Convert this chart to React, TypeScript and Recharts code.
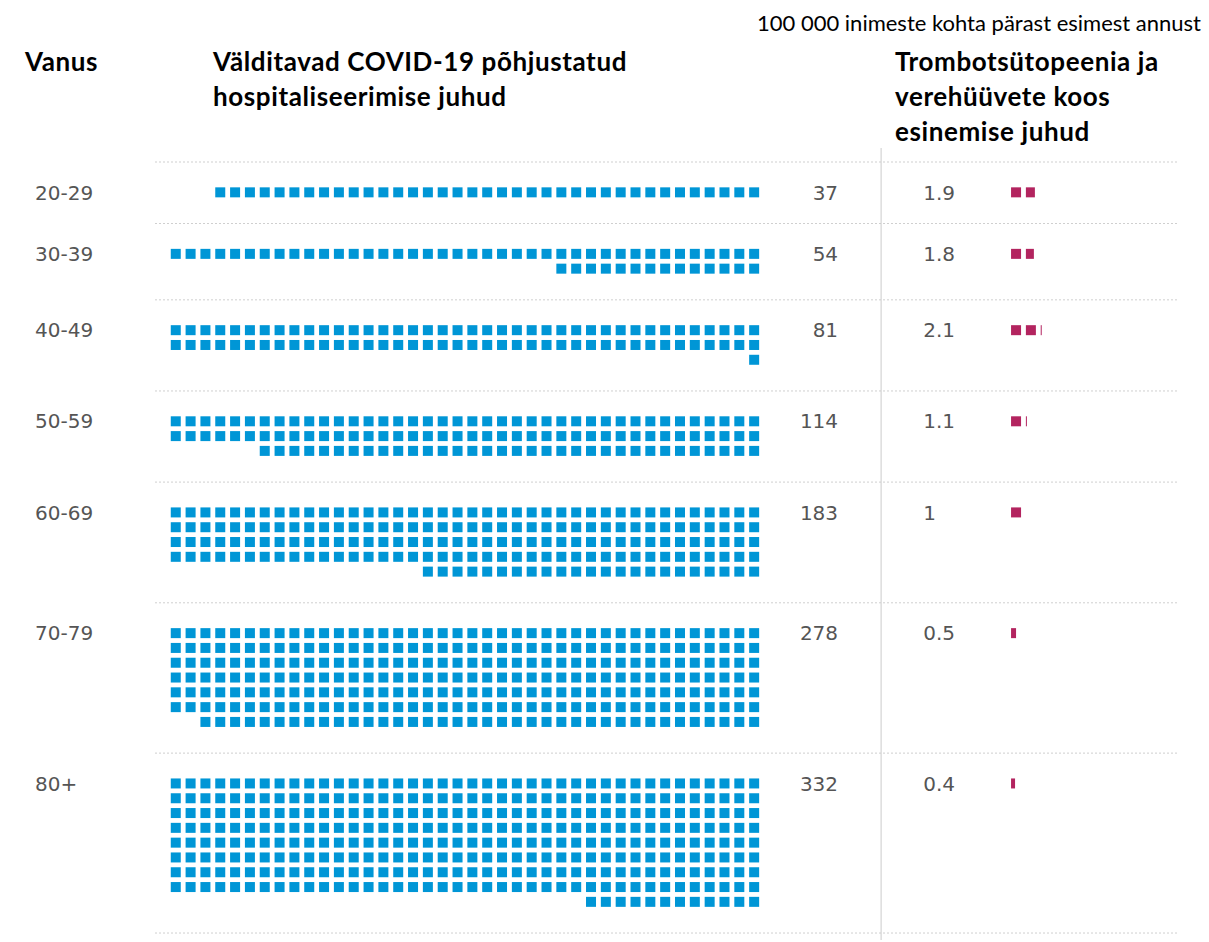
import React from 'react';
import { ScatterChart, Scatter, XAxis, YAxis, ReferenceLine } from 'recharts';

const ageGroups = ['20-29', '30-39', '40-49', '50-59', '60-69', '70-79', '80+'];
const hospitalCases = [37, 54, 81, 114, 183, 278, 332];
const thromboCases = [1.9, 1.8, 2.1, 1.1, 1, 0.5, 0.4];
const thromboLabels = ['1.9', '1.8', '2.1', '1.1', '1', '0.5', '0.4'];

// layout, in square units (one square + gap)
const PER_ROW = 40;
const GAP = 3.157; // empty rows between two age groups
const FIRST = 2.05; // first square row below the separator
const VALUE_X = 45.16;
const DIVIDER_X = 48.06;
const THROMBO_LABEL_X = 50.9;
const THROMBO_X = 57.16;

const BLUE = '#0096d6';
const PINK = '#b3245f';
const GREY = '#555555';

const rowCounts = hospitalCases.map((v) => Math.ceil(v / PER_ROW));
const separators: number[] = [0];
rowCounts.forEach((n, i) => separators.push(separators[i] + n + GAP));
const firstRows = separators.slice(0, -1).map((s) => s + FIRST);

// full rows from the top, the rest right-aligned in the last row
const waffle = hospitalCases.flatMap((v, i) => {
  const full = Math.floor(v / PER_ROW);
  const rest = v % PER_ROW;
  const pts = [];
  for (let k = 0; k < v; k++) {
    const r = Math.floor(k / PER_ROW);
    const j = k % PER_ROW;
    const col = r < full ? j : PER_ROW - rest + j;
    pts.push({ x: col + 0.5, y: firstRows[i] + r });
  }
  return pts;
});

const thrombo = thromboCases.flatMap((v, i) => {
  const pts = [];
  for (let k = 0; k < Math.ceil(v); k++) {
    pts.push({ x: THROMBO_X + k, y: firstRows[i], frac: Math.min(1, v - k) });
  }
  return pts;
});

const hospitalText = hospitalCases.map((v, i) => ({ x: VALUE_X, y: firstRows[i], label: String(v) }));
const thromboText = thromboLabels.map((t, i) => ({ x: THROMBO_LABEL_X, y: firstRows[i], label: t }));

const SQ = 10;

const Square = (p: any) => (
  <rect x={p.cx - SQ / 2} y={p.cy - SQ / 2} width={SQ * (p.payload.frac ?? 1)} height={SQ} fill={p.fill} />
);

const textStyle = { fontFamily: '"DejaVu Sans", Verdana, sans-serif', fontSize: 20, fill: GREY };

const EndText = (p: any) => (
  <text x={p.cx} y={p.cy} dy="0.36em" textAnchor="end" style={textStyle}>
    {p.payload.label}
  </text>
);

const StartText = (p: any) => (
  <text x={p.cx} y={p.cy} dy="0.36em" textAnchor="start" style={textStyle}>
    {p.payload.label}
  </text>
);

const AgeTick = (p: any) => (
  <text x={p.x} y={p.y} dy="0.36em" textAnchor="start" style={textStyle}>
    {ageGroups[p.index]}
  </text>
);

const head: React.CSSProperties = {
  position: 'absolute',
  fontFamily: 'Lato, "Open Sans", sans-serif',
  fontWeight: 700,
  fontSize: 26,
  letterSpacing: 0.6,
  lineHeight: '35px',
  color: '#000',
  margin: 0,
  whiteSpace: 'nowrap',
};

export default function App() {
  return (
    <div style={{ position: 'absolute', left: 0, top: 0, width: 1209, height: 942, background: '#fff', overflow: 'hidden' }}>
      <div
        style={{
          position: 'absolute',
          right: 8,
          top: 10,
          fontFamily: 'Lato, "Open Sans", sans-serif',
          fontSize: 22,
          lineHeight: '26px',
          color: '#000',
          whiteSpace: 'nowrap',
        }}
      >
        100 000 inimeste kohta pärast esimest annust
      </div>
      <div style={{ ...head, left: 25, top: 44 }}>Vanus</div>
      <div style={{ ...head, left: 213, top: 44 }}>
        Välditavad COVID-19 põhjustatud
        <br />
        hospitaliseerimise juhud
      </div>
      <div style={{ ...head, left: 895, top: 44 }}>
        Trombotsütopeenia ja
        <br />
        verehüüvete koos
        <br />
        esinemise juhud
      </div>

      <div style={{ position: 'absolute', left: 0, top: 0 }}>
        <ScatterChart width={1209} height={942} margin={{ top: 148, right: 31, bottom: 2, left: 0 }}>
          <XAxis type="number" dataKey="x" domain={[-0.9, 68.08]} allowDataOverflow hide />
          <YAxis
            type="number"
            dataKey="y"
            domain={[-0.946, 52.57]}
            reversed
            allowDataOverflow
            width={155}
            axisLine={false}
            tickLine={false}
            tickSize={0}
            tickMargin={120}
            ticks={firstRows}
            interval={0}
            tick={AgeTick}
          />
          {separators.map((s) => (
            <ReferenceLine key={s} y={s} stroke="#cfcfcf" strokeDasharray="2 2" />
          ))}
          <ReferenceLine x={DIVIDER_X} stroke="#cccccc" />
          <Scatter data={waffle} fill={BLUE} shape={Square} isAnimationActive={false} />
          <Scatter data={thrombo} fill={PINK} shape={Square} isAnimationActive={false} />
          <Scatter data={hospitalText} fill={GREY} shape={EndText} isAnimationActive={false} />
          <Scatter data={thromboText} fill={GREY} shape={StartText} isAnimationActive={false} />
        </ScatterChart>
      </div>
    </div>
  );
}
